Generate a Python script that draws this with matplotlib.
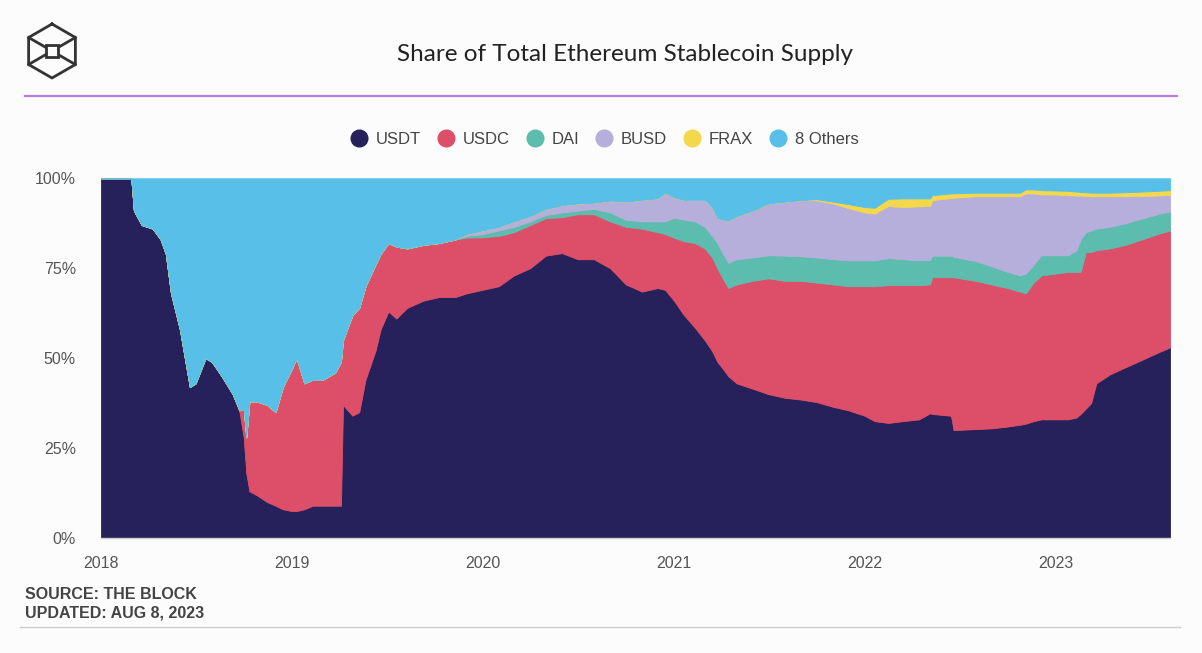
import matplotlib.pyplot as plt
import matplotlib.dates as mdates
from matplotlib.lines import Line2D
import numpy as np
import pandas as pd

# ---- data (share of supply, %) ----
dates = pd.to_datetime([
    "2018-01-01", "2018-02-28", "2018-03-05", "2018-03-20", "2018-04-10",
    "2018-04-25", "2018-05-05", "2018-05-15", "2018-06-01", "2018-06-20",
    "2018-07-01", "2018-07-20", "2018-08-01", "2018-08-20", "2018-09-10",
    "2018-09-23", "2018-10-01", "2018-10-06", "2018-10-12", "2018-10-25",
    "2018-11-15", "2018-12-01", "2018-12-15", "2019-01-01", "2019-01-10",
    "2019-01-25", "2019-02-10", "2019-03-01", "2019-03-25", "2019-04-05",
    "2019-04-09", "2019-04-27", "2019-05-10", "2019-05-22", "2019-06-10",
    "2019-06-20", "2019-07-05", "2019-07-20", "2019-08-10", "2019-09-10",
    "2019-10-10", "2019-11-10", "2019-12-01", "2020-01-01", "2020-02-01",
    "2020-03-01", "2020-04-01", "2020-05-01", "2020-06-01", "2020-07-01",
    "2020-08-01", "2020-09-01", "2020-10-01", "2020-11-01", "2020-12-01",
    "2020-12-15", "2021-01-01", "2021-01-20", "2021-02-10", "2021-03-01",
    "2021-03-15", "2021-03-25", "2021-04-05", "2021-04-15", "2021-05-01",
    "2021-06-01", "2021-07-01", "2021-08-01", "2021-09-01", "2021-10-01",
    "2021-11-01", "2021-12-01", "2022-01-01", "2022-01-20", "2022-02-15",
    "2022-03-15", "2022-04-15", "2022-05-06", "2022-05-10", "2022-06-15",
    "2022-06-20", "2022-08-01", "2022-09-01", "2022-10-01", "2022-10-25",
    "2022-11-05", "2022-11-20", "2022-12-05", "2023-01-01", "2023-01-25",
    "2023-02-10", "2023-02-18", "2023-02-28", "2023-03-10", "2023-03-20",
    "2023-04-15", "2023-05-15", "2023-06-15", "2023-07-15", "2023-08-08",
])

usdt = [100, 100, 91, 87, 86, 83, 79, 68, 58, 42,
        43, 50, 49, 45, 40, 35, 28, 18, 13, 12,
        10, 9, 8, 7.5, 7.5, 8, 9, 9, 9, 9,
        37, 34, 35, 44, 52, 58, 63, 61, 64, 66,
        67, 67, 68, 69, 70, 73, 75, 78.5, 79.2, 77.5,
        77.5, 75, 70.5, 68.5, 69.5, 69, 66, 62, 58.5, 55,
        52, 49, 47, 45, 43, 41.5, 40, 39, 38.5, 37.8,
        36.5, 35.5, 34, 32.5, 32, 32.5, 33, 34.7, 34.5, 34,
        30, 30.3, 30.5, 31, 31.5, 31.8, 32.5, 33, 33, 33,
        33.5, 34.5, 36, 37.5, 43, 45.5, 47.5, 49.5, 51.5, 53]

usdc = [0, 0, 0, 0, 0, 0, 0, 0, 0, 0,
        0, 0, 0, 0, 0, 0.5, 8, 10, 25, 26,
        27, 26, 34, 39.5, 42.5, 35, 35, 35, 37, 40,
        18, 28, 29, 26, 24, 21, 19, 20, 16.5, 15.5,
        15, 16, 15.5, 14.6, 14, 12, 12, 10.4, 10, 12.5,
        12.5, 13, 16, 17.5, 15.5, 15.5, 17.5, 20.5, 23.5, 25.5,
        26, 26, 25, 24.5, 27.5, 30, 32.2, 32.5, 33, 33.2,
        34, 34.5, 36, 37.5, 38.3, 37.8, 37.3, 35.8, 38, 38.5,
        42.5, 41.2, 40, 38.5, 37, 36.2, 38.5, 40, 40.5, 41,
        40.4, 39.5, 43.5, 42, 37, 35, 34, 33.5, 33, 32.5]

dai = [0] * 42 + [
        0.5, 0.9, 1.5, 1.5, 1, 0.9, 1.3, 1,
        1.5, 2.5, 2, 2, 3, 3.5, 5.5, 6, 6, 6,
        6, 7, 7, 7, 7, 6.5, 6.4, 7, 6.8, 7,
        7, 7.2, 7.2, 7.2, 7.5, 7.2, 6.9, 6.8, 6, 6,
        5.7, 5.5, 5, 4.5, 4.5, 5.5, 5, 5.6, 5.1, 4.6,
        6.1, 9, 5.5, 6, 6, 6, 6, 5.8, 5.5, 5.3]

busd = [0] * 42 + [
        0.5, 1, 1, 1.5, 1.5, 1.7, 2, 2,
        1.7, 3.3, 5, 6, 6.4, 8, 5.7, 5.5, 6, 7.5,
        8, 7, 9.5, 11.8, 12, 13, 14.4, 15, 15.6, 15.9,
        15.5, 14.5, 13.3, 13, 14.5, 14.5, 15, 15, 15.4, 16,
        16.4, 18, 19.5, 21, 22, 22.3, 19.8, 16.9, 16.9, 16.7,
        15.2, 12.2, 10.1, 9.5, 9, 8.5, 7.5, 6.3, 5.2, 4.6]

frax = [0] * 69 + [
        0.3,
        0.5, 1.1, 1.5, 1.6, 2, 2.4, 2.2, 2.1, 1.4, 1.3,
        1.2, 1, 1, 1, 1, 1.1, 1.1, 1.2, 1.1, 1.2,
        1.1, 1, 1, 1, 1, 1, 1.1, 1.2, 1.3, 1.3]

others = [0, 0, 9, 13, 14, 17, 21, 32, 42, 58,
          57, 50, 51, 55, 60, 64.5, 64, 72, 62, 62,
          63, 65, 58, 53, 50, 57, 56, 56, 54, 51,
          45, 38, 36, 30, 24, 21, 18, 19, 19.5, 18.5,
          18, 17, 15.5, 14.5, 13.5, 12, 10.5, 8.5, 7.5, 7,
          6.8, 6.2, 6.5, 6, 5.6, 4, 5.3, 6, 6, 6,
          8, 11, 11.5, 11.7, 10.5, 9, 7, 6.5, 6.1, 5.8,
          6.5, 7.2, 8, 8.2, 5.7, 5.6, 5.6, 5.6, 4.7, 4.2,
          4.2, 4, 4, 4, 4, 3.1, 3.1, 3.3, 3.4, 3.5,
          3.7, 3.8, 3.9, 4, 4, 4, 3.9, 3.7, 3.5, 3.3]

labels = ["USDT", "USDC", "DAI", "BUSD", "FRAX", "8 Others"]
colors = ["#27215b", "#dd4f68", "#5cbcad", "#b6aedb", "#f4d84c", "#57bfe8"]
year_ticks = ["2018", "2019", "2020", "2021", "2022", "2023"]

# ---- figure ----
bg = "#fcfcfc"
fig = plt.figure(figsize=(12.02, 6.53), dpi=100, facecolor=bg)
ax = fig.add_axes([0.084, 0.176, 0.8894, 0.551])
ax.set_facecolor(bg)

polys = ax.stackplot(dates, usdt, usdc, dai, busd, frax, others, colors=colors)
for p, c in zip(polys, colors):
    p.set_edgecolor(c)
    p.set_linewidth(0.6)

ax.set_xlim(pd.Timestamp("2018-01-01"), pd.Timestamp("2023-08-08"))
ax.set_ylim(0, 100)
ax.set_xticks(pd.to_datetime([y + "-01-01" for y in year_ticks]))
ax.set_xticklabels(year_ticks)
ax.set_yticks([0, 25, 50, 75, 100])
ax.set_yticklabels(["0%", "25%", "50%", "75%", "100%"])
ax.tick_params(length=0, labelsize=11.5, colors="#555555")
ax.tick_params(axis="x", pad=13)
ax.tick_params(axis="y", pad=18)
for lab in ax.get_xticklabels() + ax.get_yticklabels():
    lab.set_fontfamily("Liberation Sans")
for s in ["top", "right", "left"]:
    ax.spines[s].set_visible(False)
ax.spines["bottom"].set_color("#cfcfcf")
ax.spines["bottom"].set_linewidth(1)

# title
fig.text(0.52, 0.917, "Share of Total Ethereum Stablecoin Supply", ha="center",
         va="center", fontsize=17.5, family="Lato", color="#222222")
fig.add_artist(Line2D([0.021, 0.979], [0.853, 0.853], color="#b57de3", lw=1.6))

# legend
handles = [Line2D([], [], marker="o", ls="", markersize=12, color=c) for c in colors]
fig.legend(handles, labels, loc="center", bbox_to_anchor=(0.503, 0.787), ncol=6,
           frameon=False, handlelength=1, handletextpad=0.5, columnspacing=1.0,
           prop={"family": "Liberation Sans", "size": 12}, labelcolor="#444444")

# logo (cube outline)
lx, ly, r = 52 / 1202, 1 - 51 / 653, 27
ang = np.deg2rad(np.arange(90, 451, 60))
hx = lx + r * np.cos(ang) / 1202
hy = ly + r * np.sin(ang) / 653
fig.add_artist(Line2D(hx, hy, color="#333333", lw=2))
for k in [1, 2, 4, 5]:
    fig.add_artist(Line2D([hx[k], lx], [hy[k], ly], color="#333333", lw=2))
sq = 6
fig.add_artist(plt.Rectangle((lx - sq / 1202, ly - sq / 653), 2 * sq / 1202, 2 * sq / 653,
                             facecolor=bg, edgecolor="#333333", lw=2, zorder=5,
                             transform=fig.transFigure))

# footer
fig.text(0.021, 0.090, "SOURCE: THE BLOCK", fontsize=11.5, weight="bold",
         family="Liberation Sans", color="#444444", va="center")
fig.text(0.021, 0.061, "UPDATED: AUG 8, 2023", fontsize=11.5, weight="bold",
         family="Liberation Sans", color="#444444", va="center")
fig.add_artist(Line2D([0.017, 0.982], [0.04, 0.04], color="#cccccc", lw=1))

fig.savefig("out.png", dpi=100, facecolor=bg)
